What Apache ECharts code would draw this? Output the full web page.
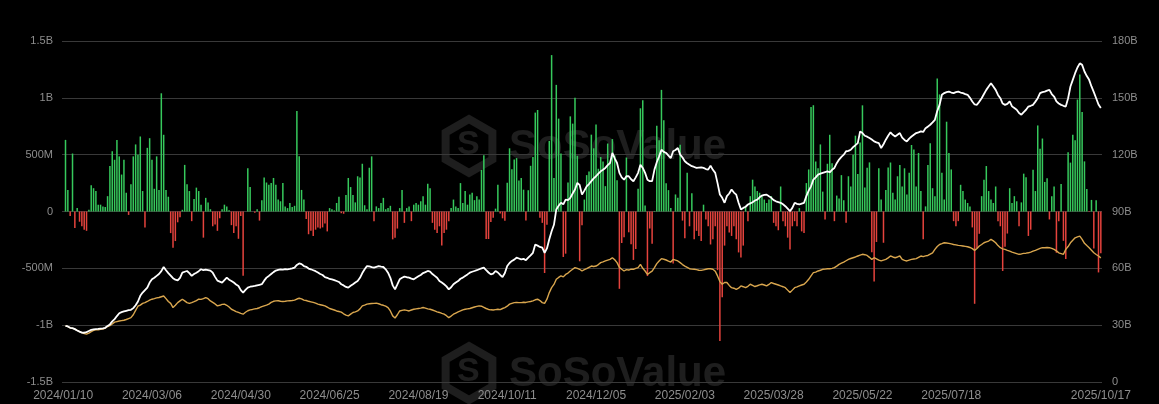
<!DOCTYPE html>
<html>
<head>
<meta charset="utf-8">
<script src="https://cdn.jsdelivr.net/npm/echarts@6/dist/echarts.min.js"></script>
<style>
html,body{margin:0;padding:0;background:#000;}
#chart{width:1159px;height:404px;}
</style>
</head>
<body>
<div id="chart"></div>
<script>
// ---------- categories ----------
const firstDay = '2024/01/10';
const lastDay = '2025/10/17';
const marketHolidays = ['2024/01/15','2024/02/19','2024/03/29','2024/05/27','2024/06/19','2024/07/04','2024/09/02','2024/11/28','2024/12/25','2025/01/01','2025/01/09','2025/01/20','2025/02/17','2025/04/18','2025/05/26','2025/06/19','2025/07/04','2025/09/01'];

// ---------- tick labels ----------
const leftTickValues = [-1500,-1000,-500,0,500,1000,1500];
const leftTickLabels = ['-1.5B','-1B','-500M','0','500M','1B','1.5B'];
const rightTickValues = [0,30,60,90,120,150,180];
const rightTickLabels = ['0','30B','60B','90B','120B','150B','180B'];

// ---------- daily net inflow (US$ M) ----------
const dailyNetInflow = [
null,630,190,-40,510,-145,30,-90,-130,-160,
-170,15,230,205,180,60,60,45,40,135,
400,530,455,630,485,325,455,165,-30,240,
485,590,500,660,180,-140,560,645,455,200,
485,190,1040,675,190,130,-190,-320,-260,-95,
-50,15,410,240,180,-85,110,210,180,60,
-230,120,80,20,-130,-115,-170,-60,20,60,
45,10,-120,-190,-130,-240,-40,-566,0,380,
215,0,-10,20,-80,100,300,255,235,250,
295,235,105,90,250,45,30,75,40,50,
885,485,190,105,-65,-200,-170,-215,-160,-140,
-150,-140,-105,-175,30,20,10,75,130,-15,
-20,145,295,215,145,80,310,300,420,55,
20,385,485,-85,45,30,75,120,20,30,
50,-245,-230,-150,30,190,-100,30,45,-85,
60,75,60,90,135,60,245,205,-100,-160,
-190,-130,-300,-190,-160,-85,30,105,45,30,
250,75,180,60,150,165,100,135,105,365,
495,-243,-242,-92,-54,25,235,-18,-60,-81,
253,556,371,458,470,273,294,192,-79,188,
402,479,870,893,-54,-100,-541,-116,621,1376,
294,1114,817,510,-400,-371,255,837,773,1000,
490,-438,-122,105,320,353,676,556,766,376,
479,439,223,598,428,637,493,276,-680,-277,
-226,475,-183,-288,-426,-330,200,908,978,52,
-568,-149,-284,5,755,626,1070,802,248,188,
30,-458,150,120,588,-80,-235,340,-130,160,
-245,-170,-215,-260,60,-70,-130,-290,-245,-130,
-516,-1140,-754,-300,-130,-185,-215,-130,-245,-360,
-405,-300,45,-85,135,280,220,180,165,135,
105,75,105,135,-100,-130,-165,220,-85,-130,
-230,-335,-130,-85,-130,30,-175,-190,250,370,
920,935,440,380,590,175,-70,420,675,425,
-85,140,115,320,100,-100,310,220,500,667,
329,607,934,211,385,432,-358,-616,-268,380,
105,-275,190,386,431,164,105,310,410,220,
380,150,340,585,545,220,515,180,-245,45,
410,600,205,135,1170,1030,340,105,790,515,
370,-85,-130,-85,235,180,105,75,45,-140,
-812,-323,-196,135,280,400,180,105,75,220,
-85,-130,-523,-311,-194,205,75,135,90,-130,
80,333,301,-215,-160,368,180,757,553,642,
260,292,-70,135,220,-363,-85,241,-258,-418,
522,430,676,627,985,1205,875,441,198,-5,
102,-326,100,-536,-367
];

// ---------- total net assets (US$ B, white line) ----------
const totalNetAssets = [
null,29.6,29.3,28.6,28.4,27.9,27.2,26.6,26.1,26.0,
26.3,26.9,27.5,27.8,27.9,28.0,28.2,28.3,28.6,29.6,
30.4,32.0,33.2,34.8,36.3,36.9,37.3,37.6,37.9,38.1,
39.0,40.5,42.5,45.5,47.2,48.5,49.8,52.5,54.2,55.0,
56.0,57.0,58.5,60.7,59.0,57.5,56.2,54.8,54.0,53.6,
55.0,57.7,58.2,58.6,57.5,56.0,57.0,57.7,58.5,59.5,
59.0,59.3,59.1,58.8,57.7,55.5,53.5,53.0,52.5,53.8,
55.1,54.0,53.3,52.5,51.5,50.7,48.5,47.2,48.6,49.8,
50.3,50.5,50.7,51.0,51.3,51.6,53.5,55.1,56.0,57.0,
58.0,58.8,59.2,59.5,59.3,59.6,59.5,59.7,60.0,60.4,
61.8,62.6,62.2,61.2,60.8,59.9,59.5,59.0,58.5,57.8,
57.0,56.5,55.4,55.0,54.4,54.2,53.8,53.3,52.8,51.6,
51.0,50.2,49.8,50.8,51.6,52.5,53.3,55.0,57.5,59.5,
61.2,61.0,60.6,60.4,60.8,61.2,60.9,60.7,59.5,57.7,
55.0,51.0,48.9,51.5,54.2,55.0,55.6,55.3,55.1,54.6,
54.2,55.0,55.8,56.5,57.5,58.0,58.6,58.3,57.0,56.0,
55.0,53.3,52.5,51.6,50.5,48.9,50.0,51.6,52.5,53.3,
54.5,55.1,56.0,56.8,57.7,58.2,58.6,59.0,59.5,60.0,
60.4,59.0,57.8,56.8,57.2,58.6,57.8,56.5,55.4,57.5,
61.2,62.8,63.9,64.6,65.6,65.2,64.7,65.0,64.3,65.6,
66.8,68.2,72.6,72.0,71.3,70.9,68.2,70.5,75.3,79.6,
83.0,91.1,93.0,94.6,93.8,96.3,96.0,97.2,99.5,101.6,
105.1,104.0,98.9,101.0,103.3,104.5,106.0,107.5,108.6,110.0,
111.2,112.0,113.0,114.5,115.6,120.9,118.0,115.6,110.4,108.0,
106.8,108.6,108.6,107.0,106.0,108.0,110.4,114.7,113.0,110.4,
106.8,106.0,106.0,112.1,116.0,119.1,122.6,121.5,120.9,119.5,
118.2,121.8,122.5,123.5,120.0,118.5,116.5,115.5,114.7,113.9,
113.5,113.0,113.2,113.3,113.0,112.4,112.1,114.2,112.0,110.4,
105.0,99.0,97.2,94.6,98.1,99.5,101.6,100.0,98.9,94.6,
91.1,91.9,92.5,93.7,94.3,94.9,95.8,96.3,97.5,98.4,
98.8,98.9,98.0,97.2,96.0,95.4,95.0,94.6,93.8,92.8,
91.5,90.2,91.9,94.6,94.0,93.7,94.2,94.6,98.1,101.0,
103.3,106.8,108.0,109.5,110.0,110.4,110.8,111.2,110.7,112.0,
113.0,115.5,117.4,118.8,120.0,121.8,122.0,122.6,124.0,125.0,
126.1,132.3,131.4,130.0,129.5,128.8,128.0,127.0,126.5,126.1,
123.5,125.5,127.9,130.0,131.8,130.5,129.6,130.5,131.4,129.0,
127.8,127.0,128.5,129.6,130.5,131.4,131.8,132.3,132.0,134.0,
134.8,135.8,137.0,138.4,143.0,146.3,151.6,152.5,153.0,153.3,
152.8,152.5,153.0,153.3,152.8,152.5,152.0,151.6,150.0,148.1,
146.5,146.3,148.0,149.8,152.0,154.2,156.0,157.7,156.0,154.2,
151.5,149.8,147.0,146.3,146.8,148.1,145.5,144.6,143.7,142.0,
141.1,142.5,143.7,145.4,145.8,146.3,148.0,149.8,152.5,153.0,
153.3,153.8,154.2,152.0,150.7,148.1,147.0,146.3,145.8,145.4,
149.8,156.0,159.5,163.0,166.0,168.2,167.4,163.9,161.5,159.5,
156.0,153.0,149.8,146.5,144.6
];

// ---------- orange line (US$ B) ----------
const cumulativeLine = [
null,29.6,29.3,28.6,28.3,27.9,27.2,26.6,26.1,25.6,
25.3,25.8,26.6,27.3,27.5,27.6,27.8,27.9,28.4,29.3,
29.8,30.6,31.6,31.9,32.2,32.4,32.6,33.0,33.5,34.0,
35.5,37.8,40.0,40.6,41.5,41.9,42.5,43.2,43.7,44.0,
44.4,44.6,45.0,45.4,44.0,42.5,41.5,39.3,40.5,41.9,
42.8,43.7,42.8,41.9,41.5,41.9,42.4,43.0,43.7,43.6,
44.0,44.6,44.0,42.8,42.0,41.2,40.2,40.5,41.0,41.1,
40.5,39.6,38.4,37.8,37.2,36.7,36.2,35.8,36.8,37.6,
38.1,38.3,38.6,38.8,39.2,39.8,40.2,40.6,41.1,42.0,
42.6,42.8,42.9,42.6,42.5,42.6,42.8,42.9,43.0,43.2,
43.8,44.2,43.9,43.2,43.0,42.6,42.3,42.0,41.6,41.1,
40.8,40.5,40.2,39.5,38.8,38.4,38.0,37.5,37.2,36.9,
36.0,35.3,34.9,35.8,36.7,37.0,37.5,38.6,40.2,40.6,
41.1,41.3,41.4,41.5,41.6,41.3,40.8,40.5,40.0,39.3,
37.5,34.9,33.8,35.5,37.5,37.8,38.1,37.8,37.5,38.0,
38.4,38.6,38.8,39.0,39.3,39.0,38.6,38.4,38.0,37.5,
37.0,36.7,36.2,35.8,35.0,34.0,34.8,35.8,36.4,37.0,
37.5,38.1,38.4,38.6,38.8,39.2,39.6,39.9,40.2,40.0,
39.4,38.8,38.3,38.1,38.0,38.2,38.4,38.2,38.8,39.3,
40.0,41.1,41.5,41.9,42.0,41.9,41.9,42.1,42.0,42.3,
42.5,42.8,43.4,43.7,43.0,41.9,41.5,43.7,47.2,49.8,
51.5,54.2,55.2,56.0,55.5,56.8,57.5,58.6,59.5,60.4,
60.0,59.5,58.6,59.3,59.8,60.5,61.2,61.0,61.2,62.0,
63.0,63.4,63.9,64.3,64.7,65.6,64.5,63.0,60.5,59.5,
58.6,59.3,59.1,59.6,59.5,60.0,60.4,62.1,60.0,58.6,
56.8,57.7,58.5,60.4,62.5,63.9,65.1,64.8,64.4,63.8,
63.3,64.7,64.3,63.9,63.0,62.0,61.2,60.5,59.8,59.6,
59.5,59.3,59.0,58.9,59.2,59.5,59.8,59.8,59.5,58.5,
56.0,53.0,51.6,52.5,52.5,51.0,49.8,49.5,48.9,49.5,
50.7,50.3,49.8,50.5,51.6,51.0,50.4,50.8,51.3,51.6,
51.2,50.7,51.5,52.5,52.0,51.6,51.2,50.7,50.3,49.8,
48.5,47.2,48.5,49.8,50.2,50.7,51.2,51.6,52.8,54.2,
56.0,57.7,58.0,58.6,59.0,59.5,59.6,59.8,59.8,60.0,
60.4,61.2,62.1,62.7,63.3,64.0,64.7,65.2,65.6,66.0,
66.5,67.0,67.4,67.2,66.8,65.8,64.7,65.6,65.0,64.3,
63.9,64.3,64.7,65.5,66.5,66.0,65.6,66.0,66.5,64.7,
64.2,63.9,64.3,64.7,64.9,65.1,65.8,66.5,66.2,66.6,
66.8,67.5,68.2,70.0,71.5,72.6,73.0,73.5,73.4,73.2,
72.9,72.6,72.4,72.1,72.0,71.8,71.6,71.4,71.0,70.4,
69.5,70.5,71.8,72.6,73.5,74.0,74.4,75.3,74.5,73.5,
72.0,70.9,70.3,70.0,69.5,69.1,68.6,68.2,67.8,67.4,
67.6,67.9,68.0,68.2,68.6,69.1,69.5,70.0,70.5,70.9,
70.9,71.0,70.9,70.5,70.0,69.2,68.2,67.8,67.4,70.0,
71.5,73.5,74.8,76.1,76.6,77.0,75.3,73.2,72.0,70.9,
69.5,68.2,67.3,66.5,65.5
];

// ---------- build trading-day categories ----------
function pad(n){return n<10?'0'+n:''+n;}
function fmt(d){return d.getUTCFullYear()+'/'+pad(d.getUTCMonth()+1)+'/'+pad(d.getUTCDate());}
function parse(s){const p=s.split('/');return Date.UTC(+p[0],+p[1]-1,+p[2]);}
const tradingDays=[];
for(let t=parse(firstDay);t<=parse(lastDay);t+=86400000){
  const d=new Date(t);const wd=d.getUTCDay();const s=fmt(d);
  if(wd!==0&&wd!==6&&marketHolidays.indexOf(s)<0) tradingDays.push(s);
}
const lastIndex = tradingDays.length-1;

const GREEN='#36c95c', RED='#e5433d';
const labelColor='#8d8d8d';
const gridColor='#393939';

function hexPath(cx,cy,r){
  const pts=[];
  for(let i=0;i<6;i++){const a=Math.PI/180*(60*i-30);pts.push([cx+r*Math.cos(a),cy+r*Math.sin(a)]);}
  return pts;
}
function watermark(y){
  const c='rgba(150,150,150,0.2)';
  return [
    {type:'polygon',shape:{points:hexPath(469,y+26,27)},style:{fill:'none',stroke:c,lineWidth:8},silent:true,z:0},
    {type:'text',x:457,y:y+8,style:{text:'S',font:'bold 34px "Liberation Sans", Arial, sans-serif',fill:c},silent:true,z:0},
    {type:'text',x:509,y:y+6,style:{text:'SoSoValue',font:'bold 42px "Liberation Sans", Arial, sans-serif',fill:c},silent:true,z:0}
  ];
}

const chart=echarts.init(document.getElementById('chart'),null,{renderer:'canvas'});
chart.setOption({
  backgroundColor:'#000',
  animation:false,
  grid:{left:62,right:57,top:41,bottom:22},
  graphic:[].concat(watermark(120),watermark(347)),
  xAxis:{
    type:'category',
    data:tradingDays,
    boundaryGap:true,
    axisLine:{show:false},
    axisTick:{show:false},
    axisLabel:{
      color:labelColor,fontSize:12,margin:8,
      fontFamily:'"Liberation Sans", Arial, sans-serif',
      interval:function(i){return (i%38===0&&i<=380)||i===lastIndex;}
    }
  },
  yAxis:[
    {type:'value',min:-1500,max:1500,interval:500,position:'left',
     axisLine:{show:false},axisTick:{show:false},
     splitLine:{show:true,lineStyle:{color:gridColor,width:1}},
     axisLabel:{color:labelColor,fontSize:11,margin:9,fontFamily:'"Liberation Sans", Arial, sans-serif',
       formatter:function(v){const k=leftTickValues.indexOf(v);return k>=0?leftTickLabels[k]:'';}}},
    {type:'value',min:0,max:180,interval:30,position:'right',
     axisLine:{show:false},axisTick:{show:false},splitLine:{show:false},
     axisLabel:{color:labelColor,fontSize:11,margin:10,fontFamily:'"Liberation Sans", Arial, sans-serif',
       formatter:function(v){const k=rightTickValues.indexOf(v);return k>=0?rightTickLabels[k]:'';}}}
  ],
  series:[
    {type:'bar',name:'Daily Net Inflow',data:dailyNetInflow,yAxisIndex:0,barWidth:1.5,
     itemStyle:{color:function(p){return p.value>=0?GREEN:RED;}},z:2},
    {type:'line',name:'Orange',data:cumulativeLine,yAxisIndex:1,showSymbol:false,
     lineStyle:{color:'#d9a64e',width:1.4},itemStyle:{color:'#d9a64e'},z:3},
    {type:'line',name:'Total Net Assets',data:totalNetAssets,yAxisIndex:1,showSymbol:false,
     lineStyle:{color:'#ffffff',width:1.8},itemStyle:{color:'#ffffff'},z:4}
  ]
});
</script>
</body>
</html>
